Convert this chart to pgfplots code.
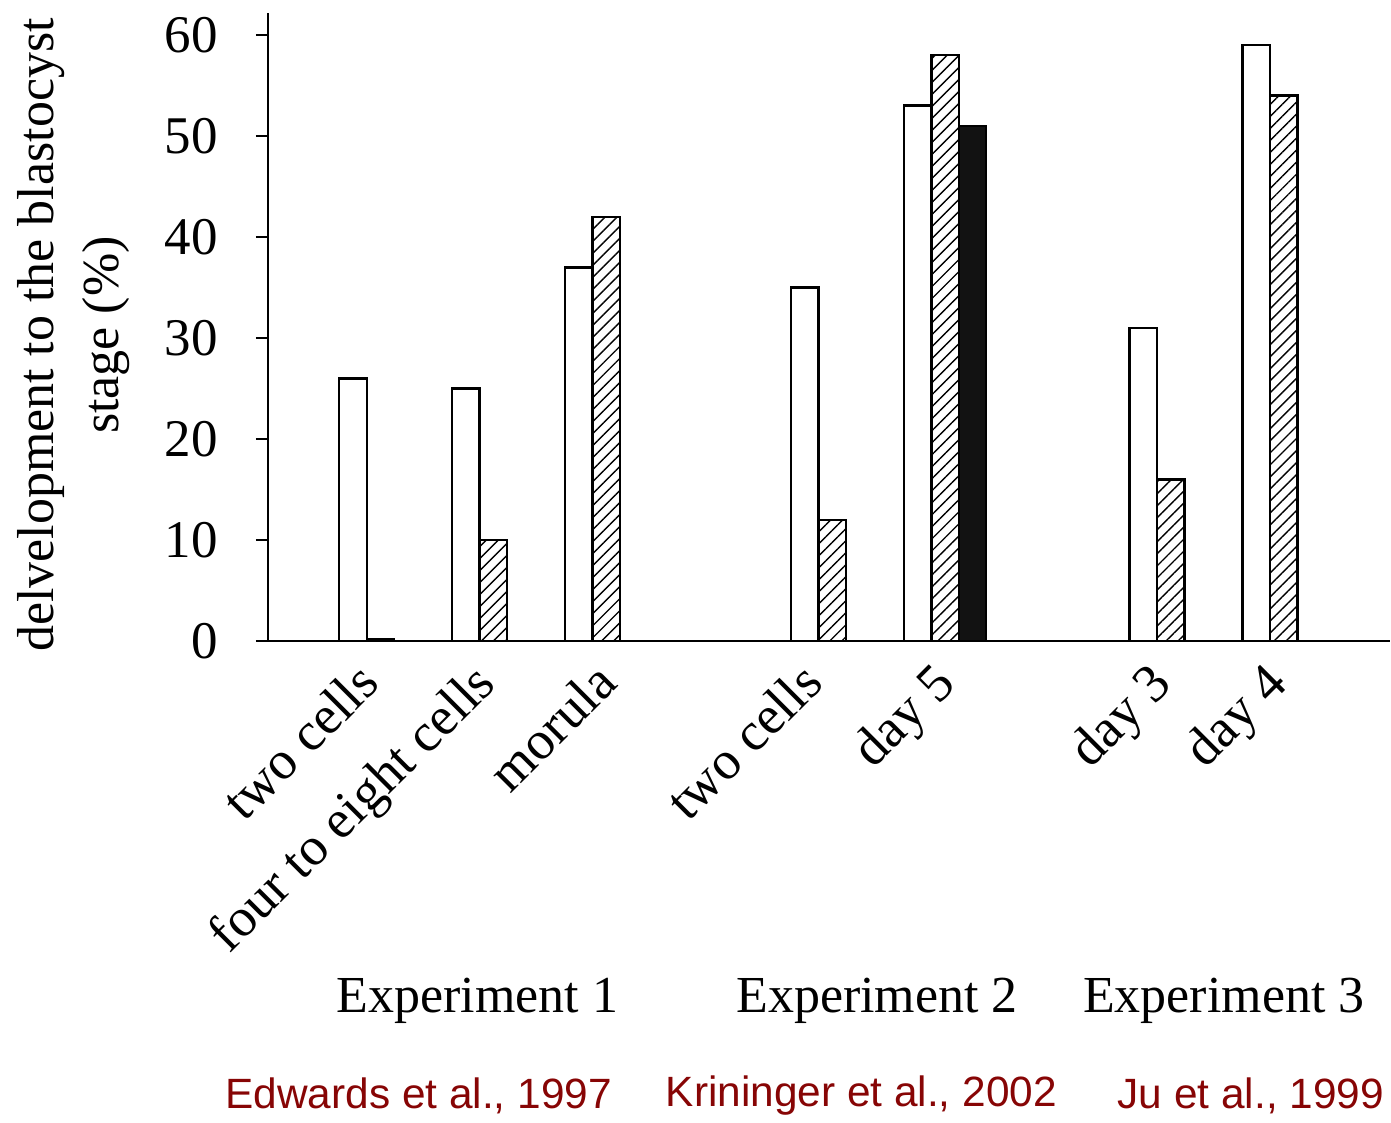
\documentclass[border=0pt]{standalone}
\usepackage{pgfplots}
\pgfplotsset{compat=1.18}
\usepackage{fontspec}
\setmainfont{Liberation Serif}
\newfontfamily\redfont{Liberation Sans}
\usetikzlibrary{patterns.meta}
\definecolor{refred}{RGB}{135,5,5}
\begin{document}
\begin{tikzpicture}
\begin{axis}[
  scale only axis, width=561.5pt, height=314.5pt,
  xmin=-0.876, xmax=9.062, ymin=0, ymax=62.2,
  axis lines=left, axis line style={-, line width=1pt},
  clip=false,
  ytick={0,10,...,60},
  xtick={-0.106,0.92,2,3.823,4.996,6.912,7.938},
  xticklabels={two cells, four to eight cells, morula, two cells, day 5, day 3, day 4},
  x tick label style={rotate=45, anchor=north east, font=\fontsize{27}{32}\selectfont, inner sep=2pt},
  major x tick style={draw=none},
  y tick label style={font=\fontsize{26.5}{31}\selectfont, xshift=-15.5pt},
  /pgf/number format/assume math mode=true,
  tick align=outside, major tick length=6pt,
  ytick style={line width=1pt, black},
  bar width=13.75pt,
]
\addplot[ybar, bar shift=-6.875pt, fill=white, draw=black, line width=1.2pt]
  coordinates {(0,26) (1,25) (2,37) (4,35) (5,53) (7,31) (8,59)};
\addplot[ybar, bar shift=6.875pt, draw=black, line width=1.2pt,
  pattern={Lines[angle=45,distance=4.25pt,line width=0.7pt]}]
  coordinates {(0,0.25) (1,10) (2,42) (4,12) (5,58) (7,16) (8,54)};
\addplot[ybar, bar shift=20.625pt, fill=black!93, draw=black, line width=1.2pt]
  coordinates {(5,51)};

\node[rotate=90, align=center, font=\fontsize{26}{32.5}\selectfont] at (axis cs:-2.60,30.3) {delvelopment to the blastocyst\\stage (\%)};

\node[font=\fontsize{26}{31}\selectfont] at (axis cs:0.98,-35.6) {Experiment 1};
\node[font=\fontsize{26}{31}\selectfont] at (axis cs:4.52,-35.6) {Experiment 2};
\node[font=\fontsize{26}{31}\selectfont] at (axis cs:7.59,-35.6) {Experiment 3};

\node[font=\redfont\fontsize{21.2}{26}\selectfont, text=refred] at (axis cs:0.46,-45.0) {Edwards et al., 1997};
\node[font=\redfont\fontsize{21.2}{26}\selectfont, text=refred] at (axis cs:4.38,-45.0) {Krininger et al., 2002};
\node[font=\redfont\fontsize{21.2}{26}\selectfont, text=refred] at (axis cs:7.83,-45.0) {Ju et al., 1999};

\path (axis cs:-3.248,63.46) rectangle (axis cs:9.062,-47.05);
\end{axis}
\end{tikzpicture}
\end{document}
